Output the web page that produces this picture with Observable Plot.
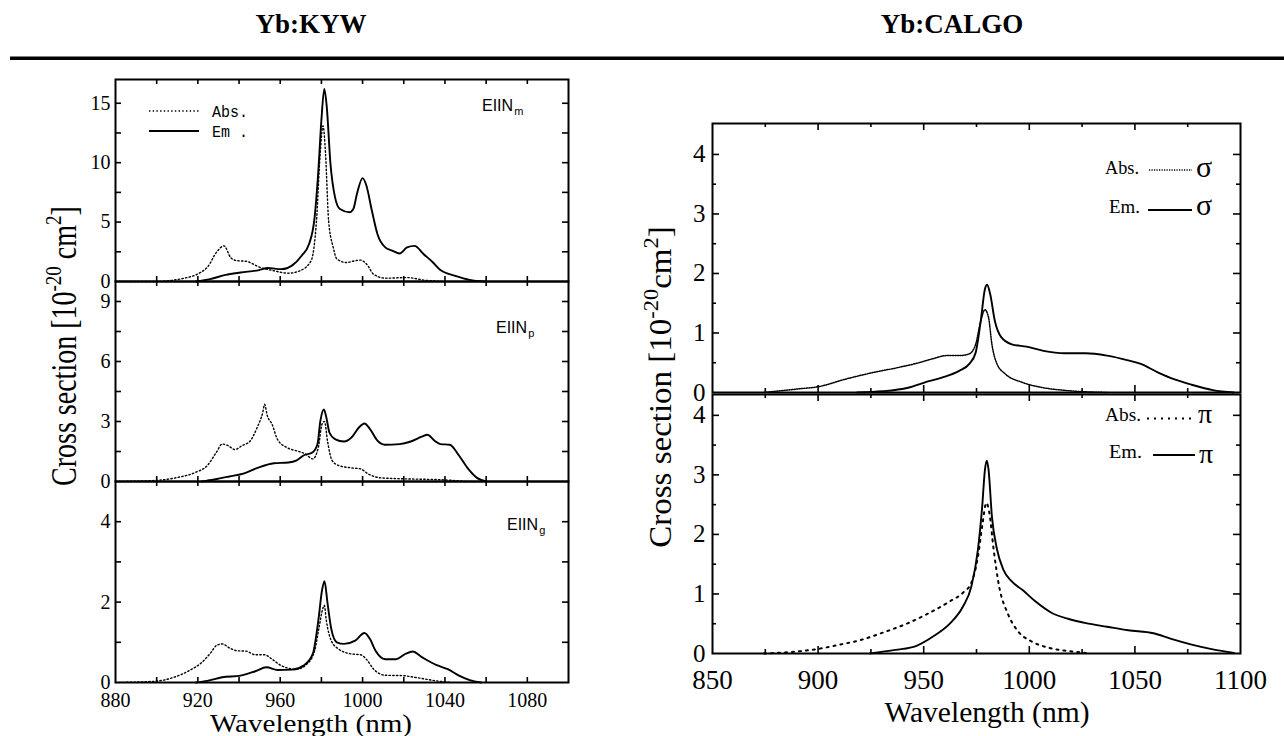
<!DOCTYPE html>
<html><head><meta charset="utf-8">
<script src="https://cdn.jsdelivr.net/npm/d3@7"></script>
<script src="https://cdn.jsdelivr.net/npm/@observablehq/plot@0.6"></script>
<style>
body{margin:0;background:#fff;}
#root{position:relative;width:1284px;height:736px;overflow:hidden;background:#fff;}
</style></head><body><div id="root"></div>
<script>
// ---------- Yb:KYW, E||N_m ----------
const absM_w = [880, 899, 914, 924.6, 929, 932.7, 936, 939, 943.4, 950, 957, 964, 969.5, 975, 977.6, 979.4, 980.8, 982, 983.5, 985.7, 987.5, 992, 996.4, 999, 1002, 1005.4, 1011, 1021.6, 1030.6, 1039.6];
const absM_v = [0, 0, 0.3, 1.2, 2.45, 3.0, 2.0, 1.75, 1.7, 1.2, 0.9, 0.7, 0.9, 1.75, 5.1, 10.75, 13.1, 10.75, 5.1, 2.9, 1.9, 1.6, 1.75, 1.8, 1.45, 0.6, 0.28, 0.33, 0.1, 0];
const emM_w = [919, 926, 933.5, 940.7, 949.7, 954, 960.5, 966, 970.4, 974, 976.7, 978.5, 980, 981.4, 982.6, 984.4, 986.6, 989, 993.7, 995.5, 997.3, 1000, 1001.8, 1004.5, 1007.2, 1011, 1014.4, 1018, 1021.6, 1025.2, 1029.7, 1034.2, 1037.8, 1045, 1052, 1059.3];
const emM_v = [0, 0.2, 0.56, 0.76, 0.96, 1.13, 1.04, 1.38, 2.17, 3.15, 5.4, 9.3, 13.6, 16.2, 14.7, 9.9, 7.1, 6.1, 5.83, 6.1, 7.4, 8.7, 8.1, 5.97, 4.0, 2.87, 2.6, 2.36, 2.87, 3.0, 2.3, 1.6, 0.96, 0.48, 0.14, 0];
// ---------- Yb:KYW, E||N_p ----------
const absP_w = [880, 899, 910, 919, 924.6, 929, 931.8, 934.5, 938, 941.6, 945.2, 948.8, 951.5, 952.4, 953.7, 956, 958.7, 963.2, 967.7, 972.2, 975.8, 978.5, 980.3, 981.5, 983, 985.2, 988.4, 994.6, 999, 1002.7, 1009, 1021.6, 1039.6, 1050.4];
const absP_v = [0, 0.05, 0.2, 0.46, 0.8, 1.46, 1.87, 1.8, 1.6, 1.8, 2.0, 2.7, 3.45, 3.86, 3.3, 2.87, 2.1, 1.7, 1.54, 1.38, 1.13, 1.7, 2.87, 3.0, 2.0, 1.05, 0.8, 0.68, 0.63, 0.38, 0.18, 0.13, 0.08, 0];
const emP_w = [921.9, 928, 935.3, 942.5, 949.7, 956.9, 964, 967.7, 971.3, 975.8, 978.1, 979.5, 981.2, 982.4, 983.9, 986.6, 991, 994.6, 998.2, 1000.9, 1003.6, 1007.2, 1010.8, 1018, 1023.4, 1028.8, 1031.5, 1035, 1037.8, 1042.3, 1046.8, 1051.3, 1055.7, 1060.2];
const emP_v = [0, 0.1, 0.25, 0.41, 0.71, 0.91, 0.95, 1.04, 1.3, 1.46, 1.87, 3.03, 3.6, 3.2, 2.45, 2.12, 2.0, 2.2, 2.7, 2.9, 2.62, 2.04, 1.84, 1.87, 2.0, 2.24, 2.34, 2.04, 1.87, 1.84, 1.3, 0.63, 0.17, 0];
// ---------- Yb:KYW, E||N_g ----------
const absG_w = [880, 899, 908.4, 915.6, 921.9, 926.4, 929, 931.8, 935.3, 939, 943.4, 947.9, 952.4, 956, 960.5, 967.7, 973, 976.7, 978.9, 980.6, 981.4, 982.4, 984.8, 988.4, 994.6, 999, 1001.8, 1005.4, 1011, 1019.8, 1025.2, 1036, 1043];
const absG_v = [0, 0.03, 0.13, 0.29, 0.5, 0.75, 0.92, 0.96, 0.86, 0.79, 0.78, 0.69, 0.69, 0.58, 0.42, 0.33, 0.46, 0.79, 1.38, 1.83, 1.92, 1.54, 1.04, 0.83, 0.71, 0.69, 0.58, 0.33, 0.18, 0.17, 0.13, 0.04, 0];
const emG_w = [919, 924.6, 931.8, 940.7, 947.9, 953.3, 958.7, 966, 971.3, 975.8, 978.5, 980.3, 981.5, 983, 984.8, 987.5, 991, 996.4, 1000.9, 1003.6, 1006.3, 1011, 1016.3, 1020.8, 1024.3, 1028.8, 1036, 1041.4, 1046.8, 1052, 1057.5];
const emG_v = [0, 0.04, 0.13, 0.17, 0.28, 0.38, 0.31, 0.32, 0.42, 0.71, 1.54, 2.29, 2.52, 1.96, 1.33, 1.0, 0.96, 1.04, 1.23, 1.08, 0.79, 0.58, 0.58, 0.71, 0.77, 0.63, 0.43, 0.33, 0.17, 0.06, 0];
// ---------- Yb:CALGO, sigma ----------
const absS_w = [874.4, 890.5, 900.5, 912.5, 926.6, 936.6, 946.6, 954.6, 960.6, 966.6, 971.6, 974.6, 977, 979, 980.7, 982.3, 984.7, 988.7, 996.7, 1006.7, 1018.7, 1036.8];
const absS_v = [0, 0.06, 0.1, 0.22, 0.34, 0.41, 0.49, 0.57, 0.62, 0.62, 0.65, 0.81, 1.2, 1.39, 1.26, 0.81, 0.48, 0.31, 0.17, 0.08, 0.03, 0];
const emS_w = [918.5, 930.6, 942.6, 950.6, 958.6, 966.6, 971.6, 974.6, 977, 979, 980, 981.5, 983.7, 986.7, 991.7, 998.7, 1006.7, 1016.7, 1026.8, 1036.8, 1046.8, 1052.8, 1060.8, 1068.8, 1076.9, 1086.9, 1096.9];
const emS_v = [0, 0.02, 0.08, 0.17, 0.25, 0.36, 0.48, 0.67, 1.2, 1.74, 1.81, 1.65, 1.2, 0.93, 0.81, 0.77, 0.7, 0.66, 0.66, 0.62, 0.54, 0.48, 0.34, 0.22, 0.13, 0.04, 0];
// ---------- Yb:CALGO, pi ----------
const absPi_w = [874.4, 900.5, 910.5, 920.5, 930.6, 942.6, 952.6, 962.6, 968.6, 972.6, 975.7, 977.7, 979.7, 981.1, 983.1, 985.7, 989.7, 994.7, 1000.7, 1008.7, 1018.7, 1026.8];
const absPi_v = [0, 0.08, 0.15, 0.23, 0.35, 0.51, 0.68, 0.88, 1.02, 1.19, 1.63, 2.14, 2.53, 2.36, 1.75, 1.13, 0.68, 0.37, 0.21, 0.1, 0.04, 0.01];
const emPi_w = [924.5, 936.6, 946.6, 954.6, 962.6, 968.6, 972.6, 975.7, 977.7, 979, 979.9, 980.7, 982.3, 984.7, 987.7, 991.7, 996.7, 1002.7, 1010.7, 1018.7, 1026.8, 1036.8, 1046.8, 1058.8, 1066.8, 1076.9, 1086.9, 1096.9];
const emPi_v = [0, 0.06, 0.13, 0.29, 0.51, 0.79, 1.13, 1.75, 2.47, 3.09, 3.24, 3.09, 2.3, 1.75, 1.41, 1.21, 1.07, 0.88, 0.68, 0.58, 0.51, 0.45, 0.39, 0.34, 0.25, 0.15, 0.07, 0.01];

// ---------- ticks / labels ----------
const kywXTicks = [900, 920, 940, 960, 980, 1000, 1020, 1040, 1060, 1080];
const kywXLabels = [880, 920, 960, 1000, 1040, 1080];
const kywMYTicks = [2.5, 5, 7.5, 10, 12.5, 15];
const kywMYLabels = [0, 5, 10, 15];
const kywPYTicks = [1.5, 3, 4.5, 6, 7.5, 9];
const kywPYLabels = [0, 3, 6, 9];
const kywGYTicks = [1, 2, 3, 4];
const kywGYLabels = [0, 2, 4];
const calXMajor = [900, 950, 1000, 1050];
const calXMinor = [875, 925, 975, 1025, 1075];
const calXLabels = [850, 900, 950, 1000, 1050, 1100];
const calYMajor = [1, 2, 3, 4];
const calYMinor = [0.5, 1.5, 2.5, 3.5];
const calYLabels = [0, 1, 2, 3, 4];

const W = 1284, H = 736;
const SERIF = "Liberation Serif";
const root = document.getElementById("root");
const series = (ws, vs) => ws.map((w, i) => ({w, v: vs[i]}));
const fmt = d => String(d);

function panel(o) {
  const fw = o.xr0 - o.xl0, fh = o.yb0 - o.yt0;
  const marks = [
    Plot.line(series(o.absW, o.absV), {x: "w", y: "v", stroke: "#000", strokeWidth: o.absSW, strokeDasharray: o.absDash, curve: "monotone-x"}),
    Plot.line(series(o.emW, o.emV), {x: "w", y: "v", stroke: "#000", strokeWidth: 1.9, curve: "monotone-x"}),
    Plot.frame({stroke: "#000", strokeWidth: 2})
  ];
  // inward ticks on all four sides (rules inset to a short length)
  for (const [t, len] of o.xt) {
    marks.push(Plot.ruleX(t, {x: d => d, stroke: "#000", strokeWidth: 1.6, insetBottom: fh - len}));
    marks.push(Plot.ruleX(t, {x: d => d, stroke: "#000", strokeWidth: 1.6, insetTop: fh - len}));
  }
  for (const [t, len] of o.yt) {
    marks.push(Plot.ruleY(t, {y: d => d, stroke: "#000", strokeWidth: 1.6, insetRight: fw - len}));
    marks.push(Plot.ruleY(t, {y: d => d, stroke: "#000", strokeWidth: 1.6, insetLeft: fw - len}));
  }
  marks.push(Plot.axisY(o.yl, {anchor: "left", tickSize: 0, tickPadding: o.ypad, fontSize: o.fs, fontFamily: SERIF, tickFormat: fmt, label: null}));
  if (o.xl) marks.push(Plot.axisX(o.xl, {anchor: "bottom", tickSize: 0, tickPadding: o.xpad, fontSize: o.xfs, fontFamily: SERIF, tickFormat: fmt, label: null}));
  else marks.push(Plot.axisX({ticks: [], label: null}));
  const svg = Plot.plot({
    width: W, height: H,
    marginLeft: o.xl0, marginRight: W - o.xr0, marginTop: o.yt0, marginBottom: H - o.yb0,
    x: {domain: o.xd}, y: {domain: o.yd},
    style: {position: "absolute", left: "0px", top: "0px", background: "transparent", overflow: "visible", maxWidth: "none", fontFamily: SERIF, color: "#000"},
    marks
  });
  root.appendChild(svg);
}

const kywCommon = {xd: [880, 1100], xl0: 115, xr0: 568, xt: [[kywXTicks, 5]], absSW: 1.4, absDash: "1.4,2.3", fs: 20, ypad: 5, xfs: 20, xpad: 10};
panel({...kywCommon, absW: absM_w, absV: absM_v, emW: emM_w, emV: emM_v, yd: [0, 17], yt0: 79, yb0: 281, yt: [[kywMYTicks, 6]], yl: kywMYLabels});
panel({...kywCommon, absW: absP_w, absV: absP_v, emW: emP_w, emV: emP_v, yd: [0, 10], yt0: 281, yb0: 481, yt: [[kywPYTicks, 6]], yl: kywPYLabels});
panel({...kywCommon, absW: absG_w, absV: absG_v, emW: emG_w, emV: emG_v, yd: [0, 5], yt0: 481, yb0: 682, yt: [[kywGYTicks, 6]], yl: kywGYLabels, xl: kywXLabels});

const calCommon = {xd: [850, 1100], xl0: 712, xr0: 1240, xt: [[calXMajor, 7], [calXMinor, 4]], yt: [[calYMajor, 7], [calYMinor, 4]], fs: 25, ypad: 7, xfs: 27, xpad: 16, yl: calYLabels};
panel({...calCommon, absW: absS_w, absV: absS_v, emW: emS_w, emV: emS_v, absSW: 1.5, absDash: "1.2,1.3", yd: [0, 4.52], yt0: 123, yb0: 392});
panel({...calCommon, absW: absPi_w, absV: absPi_v, emW: emPi_w, emV: emPi_v, absSW: 2, absDash: "2,5", yd: [0, 4.35], yt0: 394, yb0: 653, xl: calXLabels});

// ---------- annotations (titles, axis titles, legends) ----------
const ov = d3.select(root).append("svg")
  .attr("width", W).attr("height", H)
  .style("position", "absolute").style("left", "0px").style("top", "0px");

function txt(x, y, s, o = {}) {
  const t = ov.append("text").attr("x", x).attr("y", y).text(s)
    .attr("font-family", o.ff || "'Liberation Serif', serif")
    .attr("font-size", o.fs || 16).attr("font-weight", o.fw || "normal")
    .attr("text-anchor", o.anchor || "start").attr("fill", "#000");
  if (o.len) t.attr("textLength", o.len).attr("lengthAdjust", "spacingAndGlyphs");
  return t;
}
function seg(x1, x2, y, dash, sw) {
  ov.append("line").attr("x1", x1).attr("x2", x2).attr("y1", y).attr("y2", y)
    .attr("stroke", "#000").attr("stroke-width", sw).attr("stroke-dasharray", dash || null);
}

// headers
txt(311, 33, "Yb:KYW", {fs: 27, fw: "bold", anchor: "middle"});
txt(952, 33, "Yb:CALGO", {fs: 27, fw: "bold", anchor: "middle"});
ov.append("rect").attr("x", 10).attr("y", 56.5).attr("width", 1274).attr("height", 3.5).attr("fill", "#000");

// y titles
function ytitle(x, y, fs, sx, sp) {
  const t = ov.append("text").attr("transform", `translate(${x},${y}) rotate(-90) scale(1,${sx})`)
    .attr("text-anchor", "middle").attr("font-family", "'Liberation Serif', serif").attr("font-size", fs).attr("fill", "#000");
  t.append("tspan").text("Cross section [10");
  t.append("tspan").attr("font-size", fs * 0.68).attr("dy", -fs * 0.42).text("-20");
  t.append("tspan").attr("dy", fs * 0.42).text(sp + "cm");
  t.append("tspan").attr("font-size", fs * 0.68).attr("dy", -fs * 0.42).text("2");
  t.append("tspan").attr("dy", fs * 0.42).text("]");
}
ytitle(76, 346, 28, 1.25, " ");
ytitle(671, 387, 33, 0.95, "");

// x titles
txt(311, 732, "Wavelength (nm)", {fs: 25, anchor: "middle", len: 202});
txt(987, 721.5, "Wavelength (nm)", {fs: 29, anchor: "middle", len: 205});

// KYW legend
seg(149, 199, 111, "1.4,2.3", 1.4);
seg(149, 199, 131, null, 1.8);
txt(212, 116.5, "Abs.", {ff: "'Liberation Mono', monospace", fs: 16, len: 36});
txt(212, 136.5, "Em .", {ff: "'Liberation Mono', monospace", fs: 16, len: 36});

// polarisation labels
function eN(x, y, sub) {
  const t = ov.append("text").attr("x", x).attr("y", y).attr("font-family", "'Liberation Sans', Arial, sans-serif").attr("font-size", 16).attr("fill", "#000");
  t.append("tspan").text("EIIN");
  t.append("tspan").attr("font-size", 11).attr("dy", 4).attr("dx", 1).text(sub);
}
eN(482, 111, "m");
eN(496, 333, "p");
eN(507, 530, "g");

// CALGO legends
txt(1105, 174, "Abs.", {fs: 18, len: 34});
seg(1149, 1192, 170, "1.2,1.3", 1.5);
txt(1196, 176.5, "σ", {fs: 30});
txt(1109, 212.5, "Em.", {fs: 18, len: 31});
seg(1148, 1192, 210, null, 1.9);
txt(1196, 215, "σ", {fs: 30});
txt(1105, 421, "Abs.", {fs: 18, len: 36});
seg(1147, 1194, 418.5, "2,5", 2);
txt(1198, 423, "π", {fs: 28});
txt(1109, 457.5, "Em.", {fs: 18, len: 33});
seg(1153, 1195, 455, null, 1.9);
txt(1199, 463, "π", {fs: 28});
</script>
</body></html>
